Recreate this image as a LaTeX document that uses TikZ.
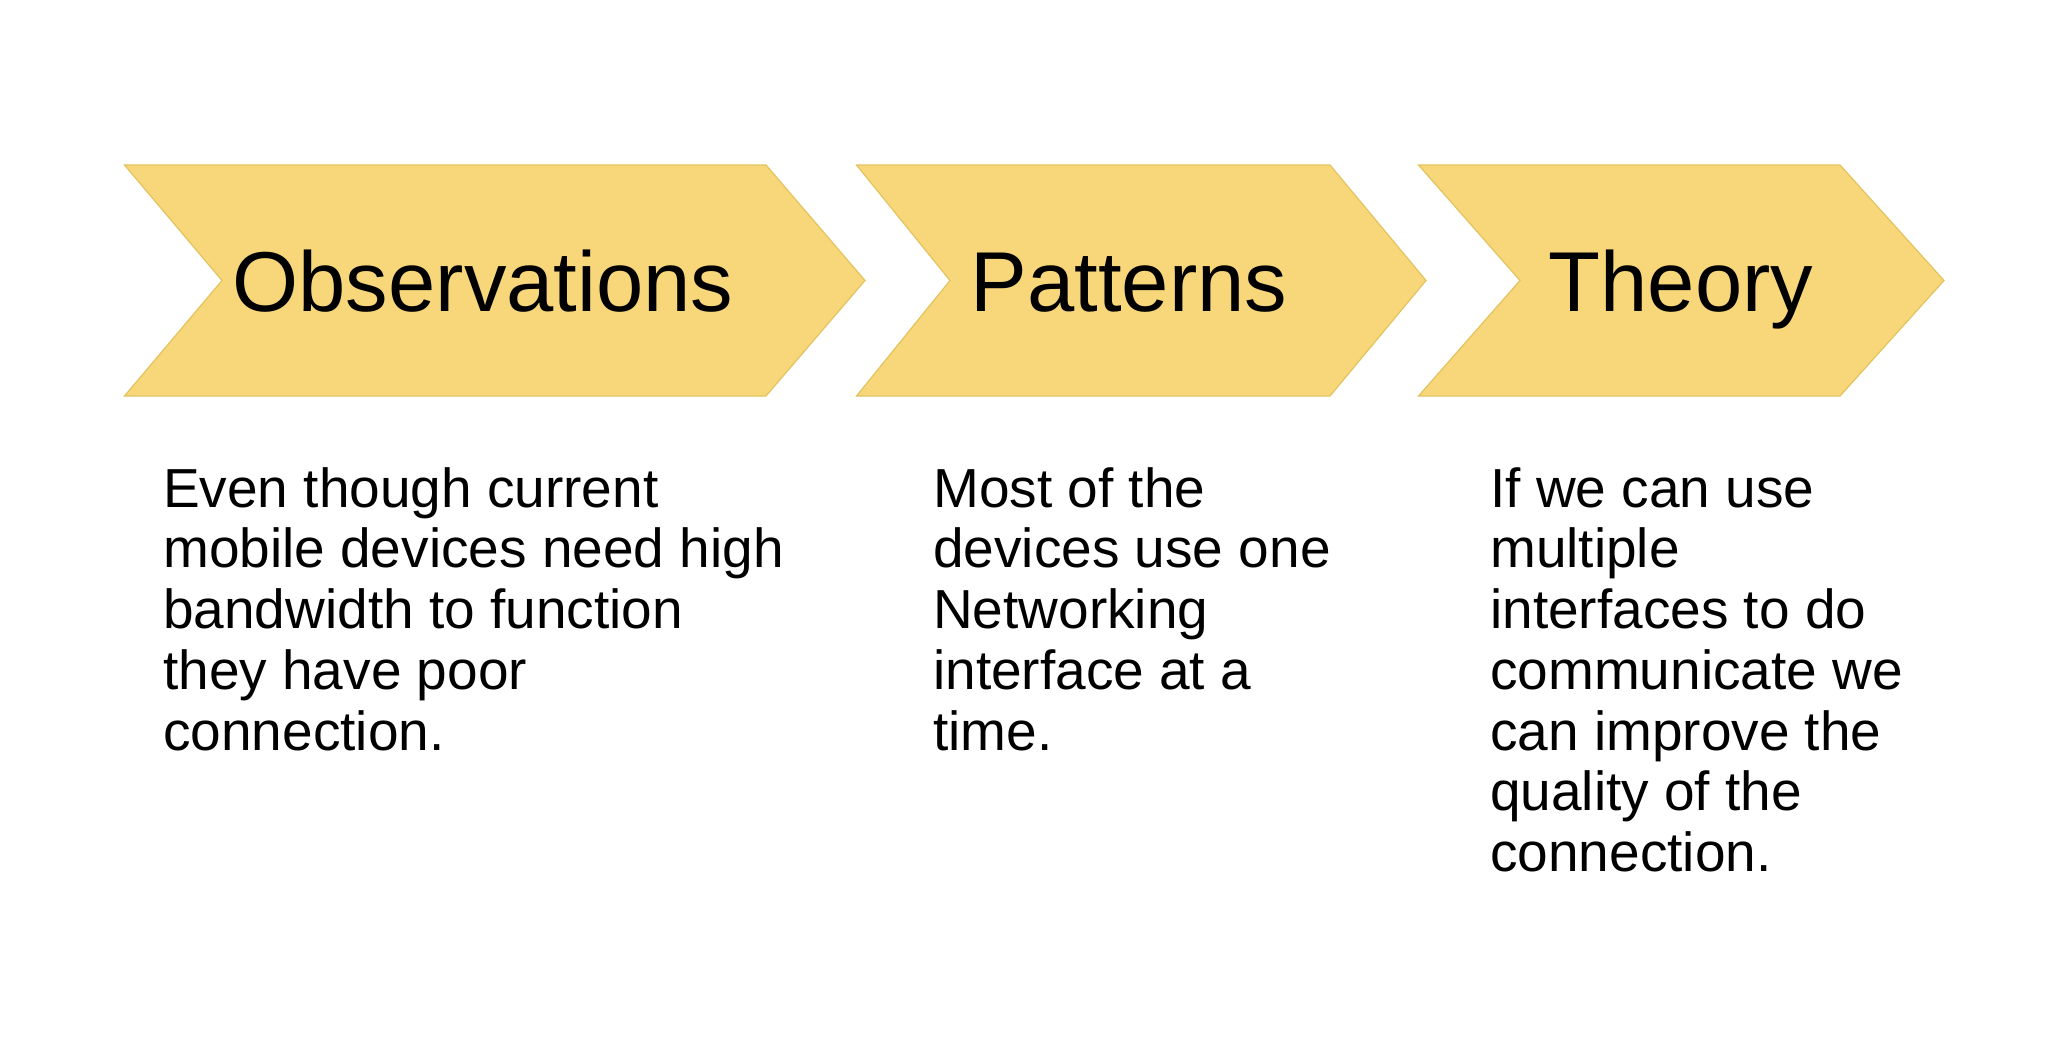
\documentclass[tikz,border=0pt]{standalone}
\usepackage{fontspec}
\setmainfont{Liberation Sans}
\definecolor{chevfill}{HTML}{F8D77B}
\definecolor{chevedge}{HTML}{E2C35E}
\begin{document}
\begin{tikzpicture}[x=1pt,y=-1pt,
  chev/.style={fill=chevfill,draw=chevedge,line width=1.2pt,line join=miter},
  title/.style={anchor=base,inner sep=0pt,font=\fontsize{85}{90}\selectfont},
  body/.style={anchor=base west,inner sep=0pt,font=\fontsize{55}{60.75}\selectfont}]
\useasboundingbox[fill=white] (0,0) rectangle (2070,1052);
% chevrons
\draw[chev] (124.5,165) -- (766,165) -- (865,280.5) -- (766,396) -- (124.5,396) -- (222,280.5) -- cycle;
\draw[chev] (856.5,165) -- (1330,165) -- (1426,280.5) -- (1330,396) -- (856.5,396) -- (950,280.5) -- cycle;
\draw[chev] (1418.5,165) -- (1840,165) -- (1944,280.5) -- (1840,396) -- (1418.5,396) -- (1520,280.5) -- cycle;
% titles
\node[title] (obs) at (483,311) {Observations};
\node[title] (pat) at (1129,311) {Patterns};
\node[title] (the) at (1681,311) {Theory};
% bodies
\node[body] (obsb) at (163,507) {\begin{tabular}[t]{@{}l@{}}Even though current\\mobile devices need high\\bandwidth to function\\they have poor\\connection.\end{tabular}};
\node[body] (patb) at (933,507) {\begin{tabular}[t]{@{}l@{}}Most of the\\devices use one\\Networking\\interface at a\\time.\end{tabular}};
\node[body] (theb) at (1490,507) {\begin{tabular}[t]{@{}l@{}}If we can use\\multiple\\interfaces to do\\communicate we\\can improve the\\quality of the\\connection.\end{tabular}};
\end{tikzpicture}
\end{document}
